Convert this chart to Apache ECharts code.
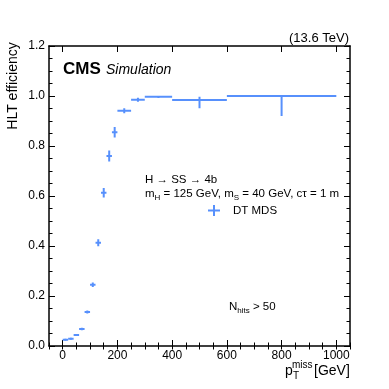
<!DOCTYPE html>
<html>
<head>
<meta charset="utf-8">
<title>HLT efficiency - DT MDS</title>
<script src="https://cdn.jsdelivr.net/npm/echarts@6.0.0/dist/echarts.min.js"></script>
<style>html,body{margin:0;padding:0;background:#fff;}</style>
</head>
<body>
<div id="main" style="width:389px;height:389px;"></div>
<script>
// pT miss bins (GeV) and trigger efficiency with asymmetric errors
var binLow  = [0, 20, 40, 60, 80, 100, 120, 140, 160, 180, 200, 250, 300, 400, 600];
var binHigh = [20, 40, 60, 80, 100, 120, 140, 160, 180, 200, 250, 300, 400, 600, 1000];
var eff     = [0.025, 0.029, 0.044, 0.068, 0.136, 0.245, 0.413, 0.613, 0.760, 0.855, 0.941, 0.985, 0.997, 0.984, 1.0];
var errDown = [0.004, 0.004, 0.004, 0.005, 0.006, 0.009, 0.014, 0.019, 0.022, 0.021, 0.010, 0.008, 0.005, 0.033, 0.080];
var errUp   = [0.004, 0.004, 0.004, 0.005, 0.006, 0.009, 0.014, 0.019, 0.022, 0.021, 0.010, 0.008, 0.003, 0.013, 0.0];

var xTickLabels = [0, 200, 400, 600, 800, 1000];
var xMinorTicks = [-50, 0, 50, 100, 150, 200, 250, 300, 350, 400, 450, 500, 550, 600, 650, 700, 750, 800, 850, 900, 950, 1000, 1050];

var blue = '#5790fc';
var font = '"Liberation Sans", Arial, Helvetica, sans-serif';

var points = [];
for (var i = 0; i < eff.length; i++) {
    points.push([binLow[i], binHigh[i], eff[i], eff[i] - errDown[i], eff[i] + errUp[i]]);
}

function renderItem(params, api) {
    var c = (api.value(0) + api.value(1)) / 2;
    var l = api.coord([api.value(0), api.value(2)]);
    var r = api.coord([api.value(1), api.value(2)]);
    var lo = api.coord([c, api.value(3)]);
    var hi = api.coord([c, api.value(4)]);
    var st = {stroke: blue, lineWidth: 2};
    return {
        type: 'group',
        children: [
            {type: 'line', shape: {x1: l[0], y1: l[1], x2: r[0], y2: r[1]}, style: st},
            {type: 'line', shape: {x1: lo[0], y1: lo[1], x2: hi[0], y2: hi[1]}, style: st}
        ]
    };
}

var axisLine = {show: true, onZero: false, lineStyle: {color: '#000', width: 1.5}};

function xAx(pos, major) {
    return {
        type: 'value', position: pos, min: -50, max: 1050,
        axisLine: major ? axisLine : {show: false},
        axisTick: {show: true, inside: true, length: major ? 6 : 3.5,
            customValues: major ? xTickLabels : xMinorTicks,
            lineStyle: {color: '#000', width: 1}},
        axisLabel: {show: major && pos === 'bottom', customValues: xTickLabels, margin: 4,
            color: '#000', fontSize: 12, fontFamily: font,
            formatter: function (v) { return String(v); }},
        splitLine: {show: false}
    };
}

function yAx(pos) {
    return {
        type: 'value', position: pos, min: 0, max: 1.2, interval: 0.2,
        axisLine: axisLine,
        axisTick: {show: true, inside: true, length: 6, lineStyle: {color: '#000', width: 1}},
        minorTick: {show: true, splitNumber: 4, length: 3.5, lineStyle: {color: '#000', width: 1}},
        axisLabel: {show: pos === 'left', margin: 4, color: '#000', fontSize: 12, fontFamily: font,
            formatter: function (v) { return v.toFixed(1); }},
        splitLine: {show: false}
    };
}

function txt(x, y, text, size, extra) {
    var s = {text: text, x: x, y: y, fill: '#000',
        font: size + 'px ' + font,
        align: 'left', verticalAlign: 'middle', textAlign: 'left', textVerticalAlign: 'middle'};
    if (extra) { for (var k in extra) s[k] = extra[k]; }
    return {type: 'text', style: s, z: 100};
}

var subRich = {
    a: {fontSize: 11.5, fontFamily: font, lineHeight: 16, verticalAlign: 'middle'},
    s: {fontSize: 8, fontFamily: font, lineHeight: 8, verticalAlign: 'bottom'}
};

var myChart = echarts.init(document.getElementById('main'));
myChart.setOption({
    animation: false,
    backgroundColor: '#fff',
    grid: {left: 49, right: 39, top: 46, bottom: 43, containLabel: false},
    xAxis: [xAx('bottom', true), xAx('bottom', false), xAx('top', true), xAx('top', false)],
    yAxis: [yAx('left'), yAx('right')],
    series: [{
        type: 'custom',
        name: 'DT MDS',
        xAxisIndex: 0, yAxisIndex: 0,
        renderItem: renderItem,
        encode: {x: [0, 1], y: [2, 3, 4]},
        data: points,
        clip: true
    }],
    graphic: [
        txt(349, 38, '(13.6 TeV)', 13, {align: 'right', textAlign: 'right'}),
        txt(63, 69, 'CMS', 17, {font: 'bold 17px ' + font}),
        txt(106, 70, 'Simulation', 14, {font: 'italic 14px ' + font}),
        {type: 'text', x: 13, y: 86, rotation: Math.PI / 2, z: 100,
            style: {text: 'HLT efficiency', fill: '#000', font: '14px ' + font,
                align: 'center', verticalAlign: 'middle', textAlign: 'center', textVerticalAlign: 'middle'}},
        // x axis title
        txt(285, 371, 'p', 14),
        txt(293, 376, 'T', 10),
        txt(292, 365, 'miss', 10),
        txt(314, 371, '[GeV]', 14),
        // annotations
        txt(145, 180, 'H \u2192 SS \u2192 4b', 11.5),
        txt(145, 194, '{a|m}{s|H}{a| = 125 GeV, m}{s|S}{a| = 40 GeV, c\u03c4 = 1 m}', 11.5, {rich: subRich}),
        {type: 'line', shape: {x1: 208, y1: 210.5, x2: 220, y2: 210.5}, style: {stroke: blue, lineWidth: 2}, z: 100},
        {type: 'line', shape: {x1: 214, y1: 205, x2: 214, y2: 216}, style: {stroke: blue, lineWidth: 2}, z: 100},
        txt(233, 210.5, 'DT MDS', 11.5),
        txt(229, 307, '{a|N}{s|hits}{a| > 50}', 11.5, {rich: subRich})
    ]
});
</script>
</body>
</html>
